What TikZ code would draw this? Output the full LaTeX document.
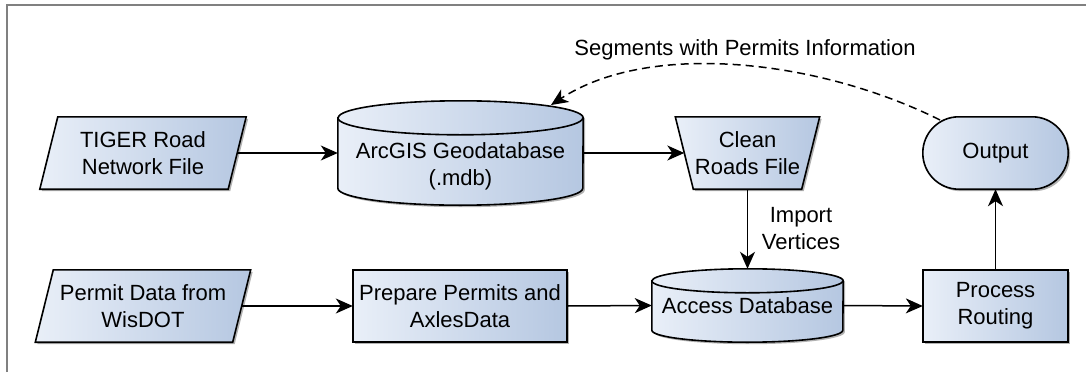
\documentclass[tikz,border=0pt]{standalone}
\usepackage{fontspec}
\setmainfont{Liberation Sans}
\usetikzlibrary{arrows.meta,backgrounds,calc,shadows}
\definecolor{gl}{HTML}{E9EFF8}
\definecolor{gr}{HTML}{B5C7E1}
\definecolor{framegray}{HTML}{808080}
\begin{document}
\begin{tikzpicture}[x=1pt,y=-1pt,
  lbl/.style={font=\fontsize{22}{27}\selectfont, align=center, inner sep=0pt},
  area/.style={lbl, draw=none},
  shp/.style={left color=gl, right color=gr, draw=black, line width=1.6pt,
    drop shadow={shadow xshift=2pt, shadow yshift=-2pt, opacity=0.3, fill=black}},
  conn/.style={line width=1.5pt, -{Stealth[length=17pt, width=15pt, inset=5pt]}},
  dconn/.style={line width=1.5pt, -{Stealth[length=17pt, width=15pt, inset=5pt]}, dash pattern=on 8pt off 5pt}
]
\useasboundingbox (0,0) rectangle (1086,372);

% nodes
\node[area, minimum width=188pt, minimum height=72pt] (tiger) at (143,153) {TIGER Road\\Network File};
\node[area, minimum width=197pt, minimum height=72pt] (permit) at (143,306) {Permit Data from\\WisDOT};
\node[area, minimum width=245pt, minimum height=104pt] (arcgis) at (460.5,153) {};
\node[lbl] (arcgistext) at (460.5,166.5) {ArcGIS Geodatabase\\(.mdb)};
\node[area, minimum width=126pt, minimum height=72pt] (clean) at (747.5,153) {Clean\\Roads File};
\node[area, minimum width=145pt, minimum height=72pt] (output) at (995.5,153) {Output};
\node[area, minimum width=214pt, minimum height=72pt] (prepare) at (460,306) {Prepare Permits and\\AxlesData};
\node[area, minimum width=191pt, minimum height=73pt] (access) at (747.5,305.5) {Access Database};
\node[area, minimum width=145pt, minimum height=72pt] (process) at (995.5,306) {Process\\Routing};
\node[lbl] (imp) at (801,229) {Import\\Vertices};
\node[lbl] (seg) at (745,50) {Segments with Permits Information};

% shapes behind
\begin{scope}[on background layer]
\fill[white] (0,0) rectangle (1086,372);
\draw[framegray, line width=2pt] (7,372) -- (7,5) -- (1086,5);
\path[shp] ($(tiger.north west)+(9,0)$) -- ($(tiger.north east)+(9,0)$) -- ($(tiger.south east)+(-9,0)$) -- ($(tiger.south west)+(-9,0)$) -- cycle;
\path[shp] ($(permit.north west)+(9,0)$) -- ($(permit.north east)+(9,0)$) -- ($(permit.south east)+(-9,0)$) -- ($(permit.south west)+(-9,0)$) -- cycle;
\path[shp] ($(clean.north west)+(-9,0)$) -- ($(clean.north east)+(9,0)$) -- ($(clean.south east)+(-9,0)$) -- ($(clean.south west)+(9,0)$) -- cycle;
\path[shp, rounded corners=36pt] (output.north west) rectangle (output.south east);
\path[shp] (prepare.north west) rectangle (prepare.south east);
\path[shp] (process.north west) rectangle (process.south east);
\path[shp] ($(arcgis.north west)+(0,17)$) -- ($(arcgis.south west)+(0,-17)$)
  arc[start angle=180, end angle=360, x radius=122.5pt, y radius=17pt]
  -- ($(arcgis.north east)+(0,17)$)
  arc[start angle=0, end angle=180, x radius=122.5pt, y radius=17pt] -- cycle;
\draw[line width=1.6pt] ($(arcgis.north west)+(0,17)$) arc[start angle=180, end angle=360, x radius=122.5pt, y radius=17pt];
\path[shp] ($(access.north west)+(0,12)$) -- ($(access.south west)+(0,-12)$)
  arc[start angle=180, end angle=360, x radius=95.5pt, y radius=12pt]
  -- ($(access.north east)+(0,12)$)
  arc[start angle=0, end angle=180, x radius=95.5pt, y radius=12pt] -- cycle;
\draw[line width=1.6pt] ($(access.north west)+(0,12)$) arc[start angle=180, end angle=360, x radius=95.5pt, y radius=12pt];
\end{scope}

% connectors
\draw[conn] (tiger.east) -- (arcgis.west);
\draw[conn] (arcgis.east) -- (clean.west);
\draw[conn] (clean.south) -- (access.north);
\draw[conn] (permit.east) -- (prepare.west);
\draw[conn] (prepare.east) -- (access.west);
\draw[conn] (access.east) -- (process.west);
\draw[conn] (process.north) -- (output.south);
\coordinate (dstart) at (940,120);
\coordinate (dend) at (551,105);
\draw[dconn] (dstart) .. controls (820,60) and (650,40) .. (dend);
\end{tikzpicture}
\end{document}
